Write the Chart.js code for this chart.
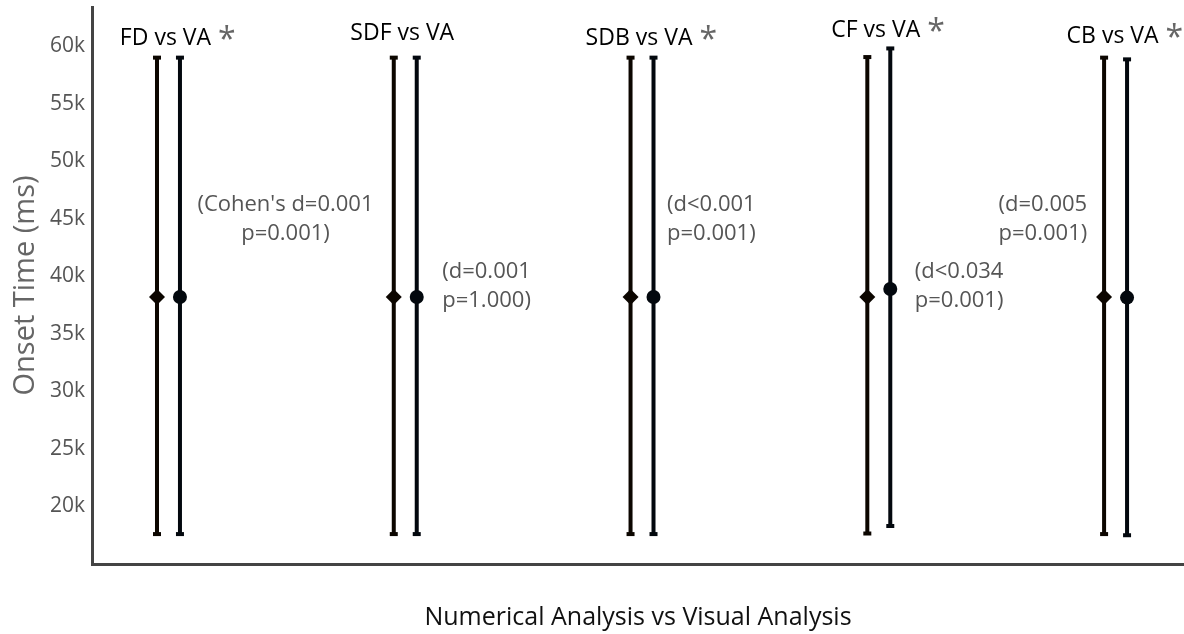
<!DOCTYPE html>
<html>
<head>
<meta charset="utf-8">
<script src="https://cdn.jsdelivr.net/npm/chart.js@4/dist/chart.umd.min.js"></script>
<style>
  body{margin:0;background:#fff;}
  #wrap{width:1184px;height:634px;}
</style>
</head>
<body>
<div id="wrap"><canvas id="onsetChart" width="1184" height="634"></canvas></div>
<script>
/* ---------------- data ---------------- */

const categories = ['FD vs VA', 'SDF vs VA', 'SDB vs VA', 'CF vs VA', 'CB vs VA'];
const significant = [true, false, true, true, true];
const statLine1 = ["(Cohen's d=0.001", '(d=0.001', '(d<0.001', '(d<0.034', '(d=0.005'];
const statLine2 = ['p=0.001)', 'p=1.000)', 'p=0.001)', 'p=0.001)', 'p=0.001)'];

// numerical analysis (diamond)
const numMean = [38200, 38200, 38200, 38200, 38200];
const numLow  = [17600, 17600, 17600, 17650, 17600];
const numHigh = [59000, 59000, 59000, 59050, 59000];

// visual analysis (circle)
const visMean = [38200, 38200, 38200, 38900, 38150];
const visLow  = [17600, 17600, 17600, 18300, 17500];
const visHigh = [59000, 59000, 59000, 59800, 58850];

const yTicks = [20000, 25000, 30000, 35000, 40000, 45000, 50000, 55000, 60000];

/* ---------------- build datasets ---------------- */

const OFF = 0.0485;

function barPoints(low, high, dx){
    const pts = [];
    categories.forEach((c, i) => {
        pts.push({x: i + 1 + dx, y: low[i]});
        pts.push({x: i + 1 + dx, y: high[i]});
        pts.push({x: i + 1 + dx, y: null});
    });
    return pts;
}

function meanPoints(mean, dx){
    return mean.map((v, i) => ({x: i + 1 + dx, y: v}));
}

const numColor = '#0c0600';
const visColor = '#03080e';

/* ---------------- annotations ---------------- */

const labelY = [38, 33, 38, 30, 36];
const statPos = [   // dx from group centre, y of first line, align
    {dx: 117, y: 205, align: 'center'},
    {dx: 37,  y: 272, align: 'left'},
    {dx: 25,  y: 205, align: 'left'},
    {dx: 36,  y: 272, align: 'left'},
    {dx: -117, y: 205, align: 'left'}
];

const notes = {
    id: 'notes',
    afterDatasetsDraw(chart){
        const {ctx, scales: {x}} = chart;
        ctx.save();
        ctx.textBaseline = 'middle';
        categories.forEach((c, i) => {
            const cx = x.getPixelForValue(i + 1);

            ctx.font = '23px "Open Sans"';
            ctx.fillStyle = '#000';
            ctx.textAlign = 'center';
            const lx = cx - 3;
            ctx.fillText(c, lx, labelY[i]);
            if(significant[i]){
                const w = ctx.measureText(c).width;
                ctx.font = '32px "Open Sans"';
                ctx.fillStyle = '#666';
                ctx.textAlign = 'left';
                ctx.fillText('*', lx + w / 2 + 7, labelY[i] + 3);
            }

            const s = statPos[i];
            ctx.font = '22px "Open Sans"';
            ctx.fillStyle = '#555';
            ctx.textAlign = s.align;
            ctx.fillText(statLine1[i], cx + s.dx, s.y);
            ctx.fillText(statLine2[i], cx + s.dx, s.y + 29);
        });
        ctx.restore();
    }
};

/* ---------------- chart ---------------- */

const ctx = document.getElementById('onsetChart');

new Chart(ctx, {
    type: 'scatter',
    data: {
        datasets: [
            {
                label: 'Numerical mean',
                data: meanPoints(numMean, -OFF),
                pointStyle: 'rectRot',
                pointRadius: 8,
                pointBackgroundColor: numColor,
                pointBorderColor: numColor,
                pointBorderWidth: 0,
                showLine: false
            },
            {
                label: 'Visual mean',
                data: meanPoints(visMean, OFF),
                pointStyle: 'circle',
                pointRadius: 7,
                pointBackgroundColor: visColor,
                pointBorderColor: visColor,
                pointBorderWidth: 0,
                showLine: false
            },
            {
                label: 'Numerical range',
                data: barPoints(numLow, numHigh, -OFF),
                showLine: true,
                spanGaps: false,
                borderColor: numColor,
                borderWidth: 4,
                pointStyle: 'line',
                pointRadius: 4,
                pointBorderWidth: 4,
                pointBorderColor: numColor
            },
            {
                label: 'Visual range',
                data: barPoints(visLow, visHigh, OFF),
                showLine: true,
                spanGaps: false,
                borderColor: visColor,
                borderWidth: 4,
                pointStyle: 'line',
                pointRadius: 4,
                pointBorderWidth: 4,
                pointBorderColor: visColor
            }
        ]
    },
    options: {
        responsive: false,
        animation: false,
        layout: {autoPadding: false, padding: {top: 7, right: 0, left: 0, bottom: 0}},
        plugins: {
            legend: {display: false},
            tooltip: {enabled: false}
        },
        scales: {
            x: {
                type: 'linear',
                min: 0.677,
                max: 5.289,
                grid: {display: false, drawTicks: false},
                ticks: {display: false},
                border: {display: true, color: '#444', width: 3},
                title: {
                    display: true,
                    text: 'Numerical Analysis vs Visual Analysis',
                    color: '#111',
                    font: {family: 'Open Sans', size: 25},
                    padding: {top: 0, bottom: 1}
                },
                afterFit(scale){
                    scale.height = 70;
                    scale.paddingLeft = 0;
                    scale.paddingRight = 0;
                }
            },
            y: {
                min: 15000,
                max: 63400,
                grid: {display: false, drawTicks: false},
                border: {display: true, color: '#444', width: 3},
                afterBuildTicks(scale){
                    scale.ticks = yTicks.map(v => ({value: v}));
                },
                ticks: {
                    color: '#555',
                    font: {family: 'Open Sans', size: 21},
                    padding: 7,
                    callback: v => (v / 1000) + 'k'
                },
                title: {
                    display: true,
                    text: 'Onset Time (ms)',
                    color: '#666',
                    font: {family: 'Open Sans', size: 29},
                    padding: {top: 8, bottom: 0}
                },
                afterFit(scale){
                    scale.width = 92;
                    scale.paddingTop = 0;
                    scale.paddingBottom = 0;
                }
            }
        }
    },
    plugins: [notes]
});
</script>
</body>
</html>
